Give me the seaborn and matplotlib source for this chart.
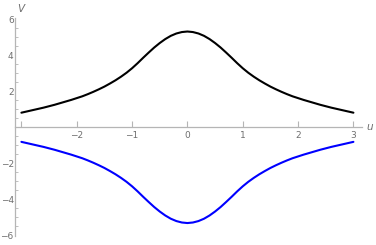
import pandas as pd
import matplotlib.pyplot as plt
import seaborn as sns
from matplotlib.ticker import MultipleLocator

# nilai (u dari -3 sampai 3, langkah 0.1)
u_vals = [-3.0, -2.9, -2.8, -2.7, -2.6, -2.5, -2.4, -2.3, -2.2, -2.1,
          -2.0, -1.9, -1.8, -1.7, -1.6, -1.5, -1.4, -1.3, -1.2, -1.1,
          -1.0, -0.9, -0.8, -0.7, -0.6, -0.5, -0.4, -0.3, -0.2, -0.1,
          0.0, 0.1, 0.2, 0.3, 0.4, 0.5, 0.6, 0.7, 0.8, 0.9,
          1.0, 1.1, 1.2, 1.3, 1.4, 1.5, 1.6, 1.7, 1.8, 1.9,
          2.0, 2.1, 2.2, 2.3, 2.4, 2.5, 2.6, 2.7, 2.8, 2.9, 3.0]
v_upper = [0.81, 0.88, 0.95, 1.02, 1.09, 1.17, 1.25, 1.34, 1.43, 1.52,
           1.62, 1.72, 1.84, 1.97, 2.11, 2.26, 2.43, 2.61, 2.81, 3.03,
           3.28, 3.56, 3.86, 4.15, 4.43, 4.68, 4.90, 5.08, 5.21, 5.29,
           5.32, 5.29, 5.21, 5.08, 4.90, 4.68, 4.43, 4.15, 3.86, 3.56,
           3.28, 3.03, 2.81, 2.61, 2.43, 2.26, 2.11, 1.97, 1.84, 1.72,
           1.62, 1.52, 1.43, 1.34, 1.25, 1.17, 1.09, 1.02, 0.95, 0.88, 0.81]
v_lower = [-0.81, -0.88, -0.95, -1.02, -1.09, -1.17, -1.25, -1.34, -1.43, -1.52,
           -1.62, -1.72, -1.84, -1.97, -2.11, -2.26, -2.43, -2.61, -2.81, -3.03,
           -3.28, -3.56, -3.86, -4.15, -4.43, -4.68, -4.90, -5.08, -5.21, -5.29,
           -5.32, -5.29, -5.21, -5.08, -4.90, -4.68, -4.43, -4.15, -3.86, -3.56,
           -3.28, -3.03, -2.81, -2.61, -2.43, -2.26, -2.11, -1.97, -1.84, -1.72,
           -1.62, -1.52, -1.43, -1.34, -1.25, -1.17, -1.09, -1.02, -0.95, -0.88, -0.81]

df = pd.DataFrame({'u': u_vals * 2,
                   'V': v_upper + v_lower,
                   'branch': ['upper'] * len(u_vals) + ['lower'] * len(u_vals)})

sns.set_style('white')
plt.rcParams['font.family'] = ['DejaVu Sans']

fig = plt.figure(figsize=(3.76, 2.45), dpi=100)
ax = fig.add_axes([0.04, 0.036, 0.922, 0.889])

sns.lineplot(data=df, x='u', y='V', hue='branch', palette={'upper': 'black', 'lower': '#0000ff'},
             linewidth=1.5, legend=False, ax=ax, sort=True)

ax.set_xlim(-3.115, 3.15)
ax.set_ylim(-6.05, 6.05)

axis_col = '#b5b5b5'
label_col = '#6e6e6e'
ax.spines['top'].set_visible(False)
ax.spines['right'].set_visible(False)
ax.spines['bottom'].set_position(('data', 0))
for s in ['left', 'bottom']:
    ax.spines[s].set_color(axis_col)
    ax.spines[s].set_linewidth(0.9)

ax.set_xticks([-3, -2, -1, 0, 1, 2, 3])
ax.set_xticklabels(['', '\u22122', '\u22121', '0', '1', '2', '3'])
ax.set_yticks([-6, -4, -2, 2, 4, 6])
ax.set_yticklabels(['\u22126', '\u22124', '\u22122', '2', '4', '6'])
ax.yaxis.set_minor_locator(MultipleLocator(0.5))

ax.tick_params(axis='both', which='major', direction='in', length=4, width=0.8,
               color=axis_col, labelcolor=label_col, labelsize=6.5, pad=1)
ax.tick_params(axis='y', which='minor', direction='in', length=2, width=0.6,
               color=axis_col, left=True)
ax.tick_params(axis='x', which='major', pad=3, bottom=True)

ax.set_xlabel('')
ax.set_ylabel('')
fig.text(0.984, 0.48, 'u', color=label_col, fontsize=7.5, style='italic', ha='center', va='center')
fig.text(0.055, 0.965, 'V', color=label_col, fontsize=7.5, style='italic', ha='center', va='center')

fig.savefig('out.png', dpi=100)
